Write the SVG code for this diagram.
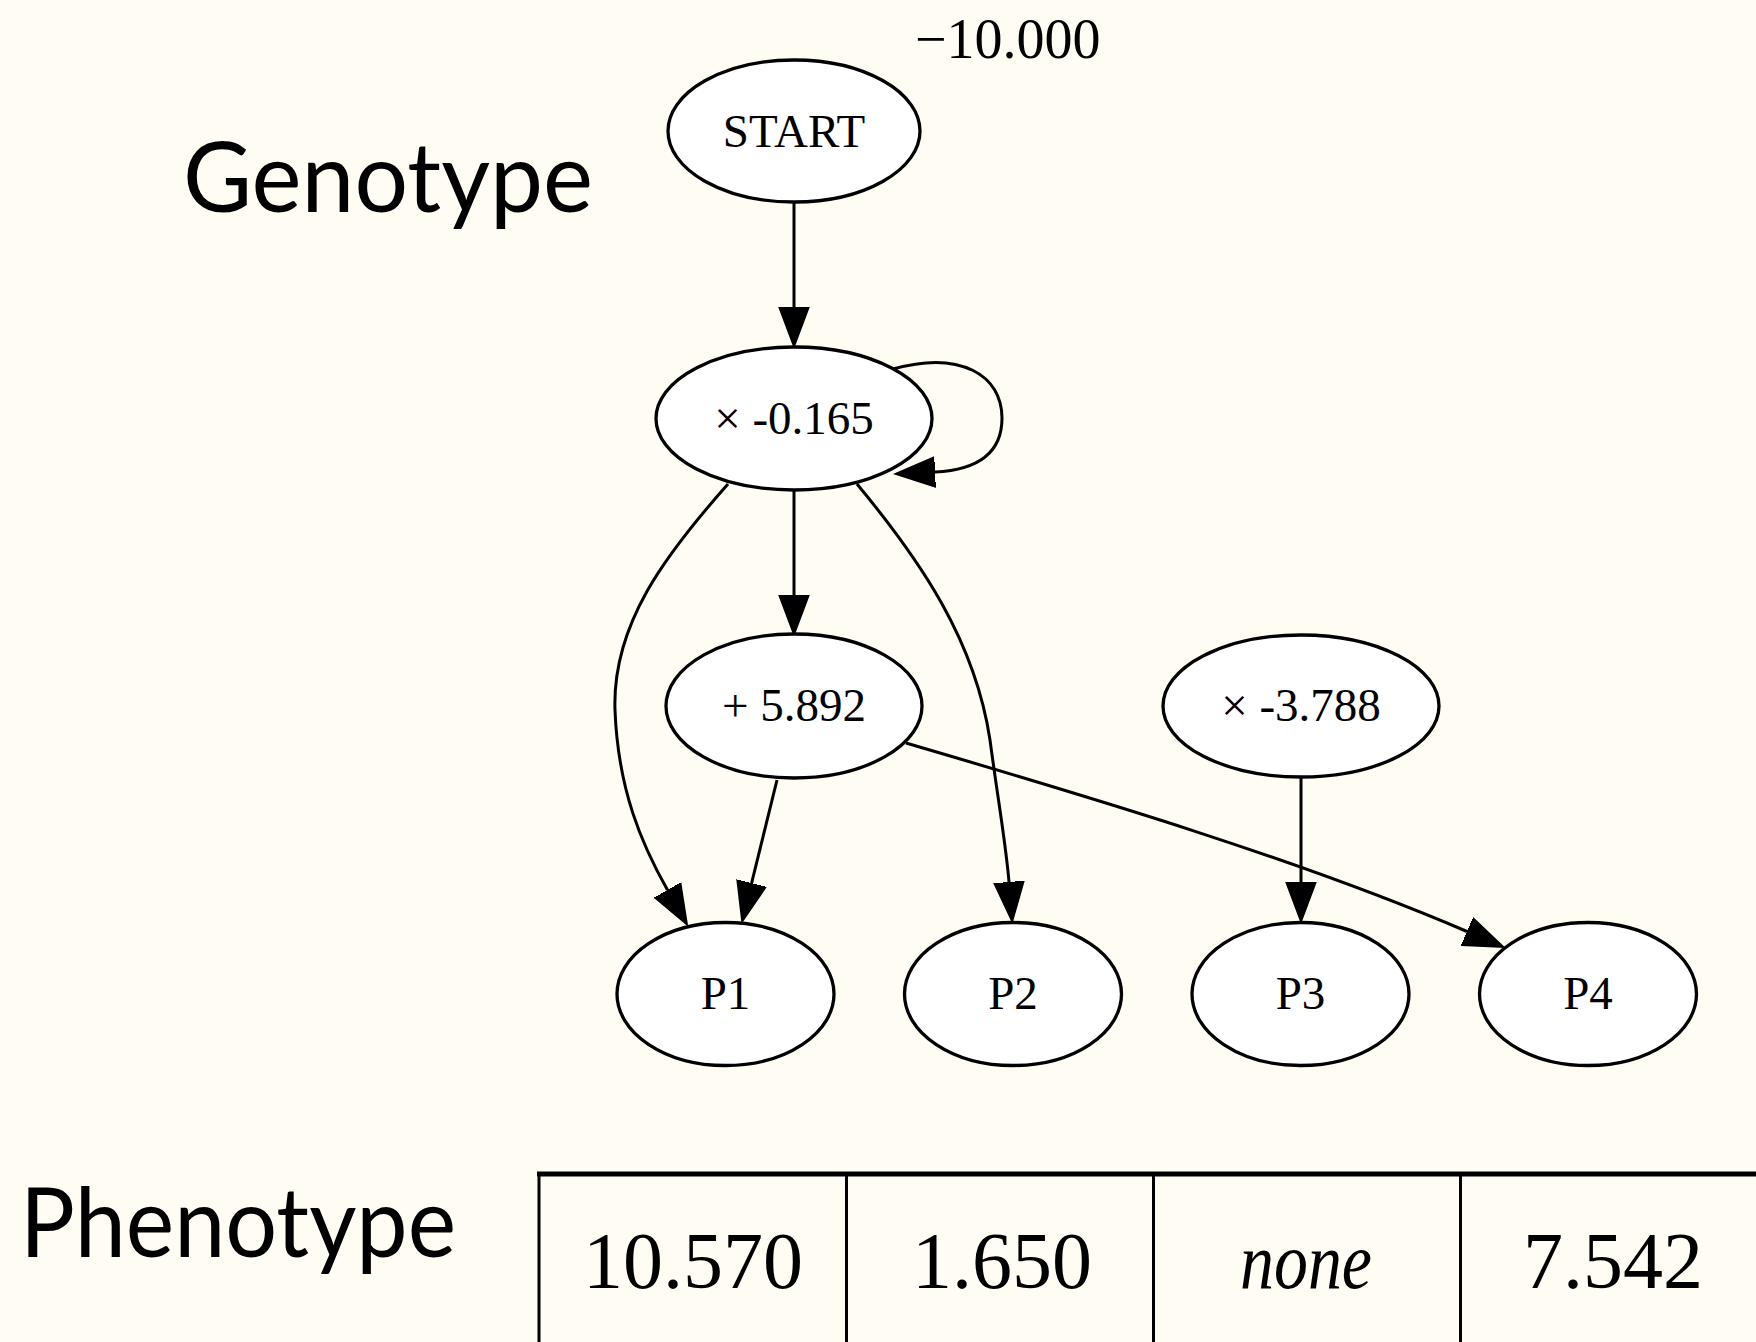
<svg xmlns="http://www.w3.org/2000/svg" width="1756" height="1342" viewBox="0 0 1756 1342">
<defs>
<style>
.node ellipse{fill:#ffffff;stroke:#000;stroke-width:3.3}
.node text{font-family:"Liberation Serif","Times New Roman",serif;font-size:47px;text-anchor:middle;fill:#000}
.edge{fill:none;stroke:#000;stroke-width:3}
.label{font-family:Lato,"Open Sans",sans-serif;font-size:97px;fill:#000}
.cell{font-family:"Liberation Serif","Times New Roman",serif;font-size:80px;text-anchor:middle;fill:#000}
.tbl{stroke:#000;fill:none}
</style>
<marker id="arr" markerUnits="userSpaceOnUse" viewBox="0 -16 42 32" refX="0" refY="0" markerWidth="42" markerHeight="32" orient="auto">
<path d="M0,-15 L40,0 L0,15 Z" fill="#000" stroke="#000" stroke-width="1.5" stroke-linejoin="miter"/>
</marker>
</defs>
<rect x="0" y="0" width="1756" height="1342" fill="#fffcf3"/>

<text class="label" x="183" y="212" textLength="410" lengthAdjust="spacingAndGlyphs">Genotype</text>
<text class="label" x="20" y="1257" textLength="436" lengthAdjust="spacingAndGlyphs">Phenotype</text>
<text x="915" y="58" font-family="Liberation Serif,'Times New Roman',serif" font-size="56">−10.000</text>

<g id="connectors">
<path class="edge" marker-end="url(#arr)" d="M794,202 L794,307"/>
<path class="edge" marker-end="url(#arr)" d="M893,369 C960,350 1002,375 1002,418 C1002,455 975,470 935,472"/>
<path class="edge" marker-end="url(#arr)" d="M794,490 L794,595"/>
<path class="edge" marker-end="url(#arr)" d="M728,484 C665,555 612,625 615,710 C618,790 642,845 667.5,890"/>
<path class="edge" marker-end="url(#arr)" d="M857,484 C920,560 975,640 990,740 C998,800 1006,845 1009,882"/>
<path class="edge" marker-end="url(#arr)" d="M777,780 L751.6,883.1"/>
<path class="edge" marker-end="url(#arr)" d="M906,743 C1100,800 1300,860 1467,931.5"/>
<path class="edge" marker-end="url(#arr)" d="M1301,777 L1301,882"/>
</g>

<g id="node-start" class="node"><ellipse cx="794" cy="131" rx="126" ry="71"/><text x="794" y="147">START</text></g>
<g id="node-mul1" class="node"><ellipse cx="794" cy="418.5" rx="138" ry="71.5"/><text x="794" y="434">× -0.165</text></g>
<g id="node-add" class="node"><ellipse cx="794" cy="706" rx="128" ry="72"/><text x="794" y="721">+ 5.892</text></g>
<g id="node-mul2" class="node"><ellipse cx="1301" cy="706" rx="138" ry="71"/><text x="1301" y="721">× -3.788</text></g>
<g id="node-p1" class="node"><ellipse cx="725.5" cy="994" rx="108.5" ry="71.5"/><text x="725.5" y="1009">P1</text></g>
<g id="node-p2" class="node"><ellipse cx="1013" cy="994" rx="108.5" ry="71.5"/><text x="1013" y="1009">P2</text></g>
<g id="node-p3" class="node"><ellipse cx="1300.5" cy="994" rx="108.5" ry="71.5"/><text x="1300.5" y="1009">P3</text></g>
<g id="node-p4" class="node"><ellipse cx="1588" cy="994" rx="108.5" ry="71.5"/><text x="1588" y="1009">P4</text></g>

<g id="phenotype-table">
<line class="tbl" x1="537" y1="1174" x2="1756" y2="1174" stroke-width="5"/>
<line class="tbl" x1="539" y1="1172" x2="539" y2="1342" stroke-width="3"/>
<line class="tbl" x1="846.5" y1="1172" x2="846.5" y2="1342" stroke-width="3"/>
<line class="tbl" x1="1153.5" y1="1172" x2="1153.5" y2="1342" stroke-width="3"/>
<line class="tbl" x1="1460.5" y1="1172" x2="1460.5" y2="1342" stroke-width="3"/>
<text class="cell" x="693" y="1288">10.570</text>
<text class="cell" x="1002" y="1288">1.650</text>
<text class="cell" x="1306" y="1288" font-style="italic" textLength="132" lengthAdjust="spacingAndGlyphs">none</text>
<text class="cell" x="1613" y="1288">7.542</text>
</g>
</svg>
